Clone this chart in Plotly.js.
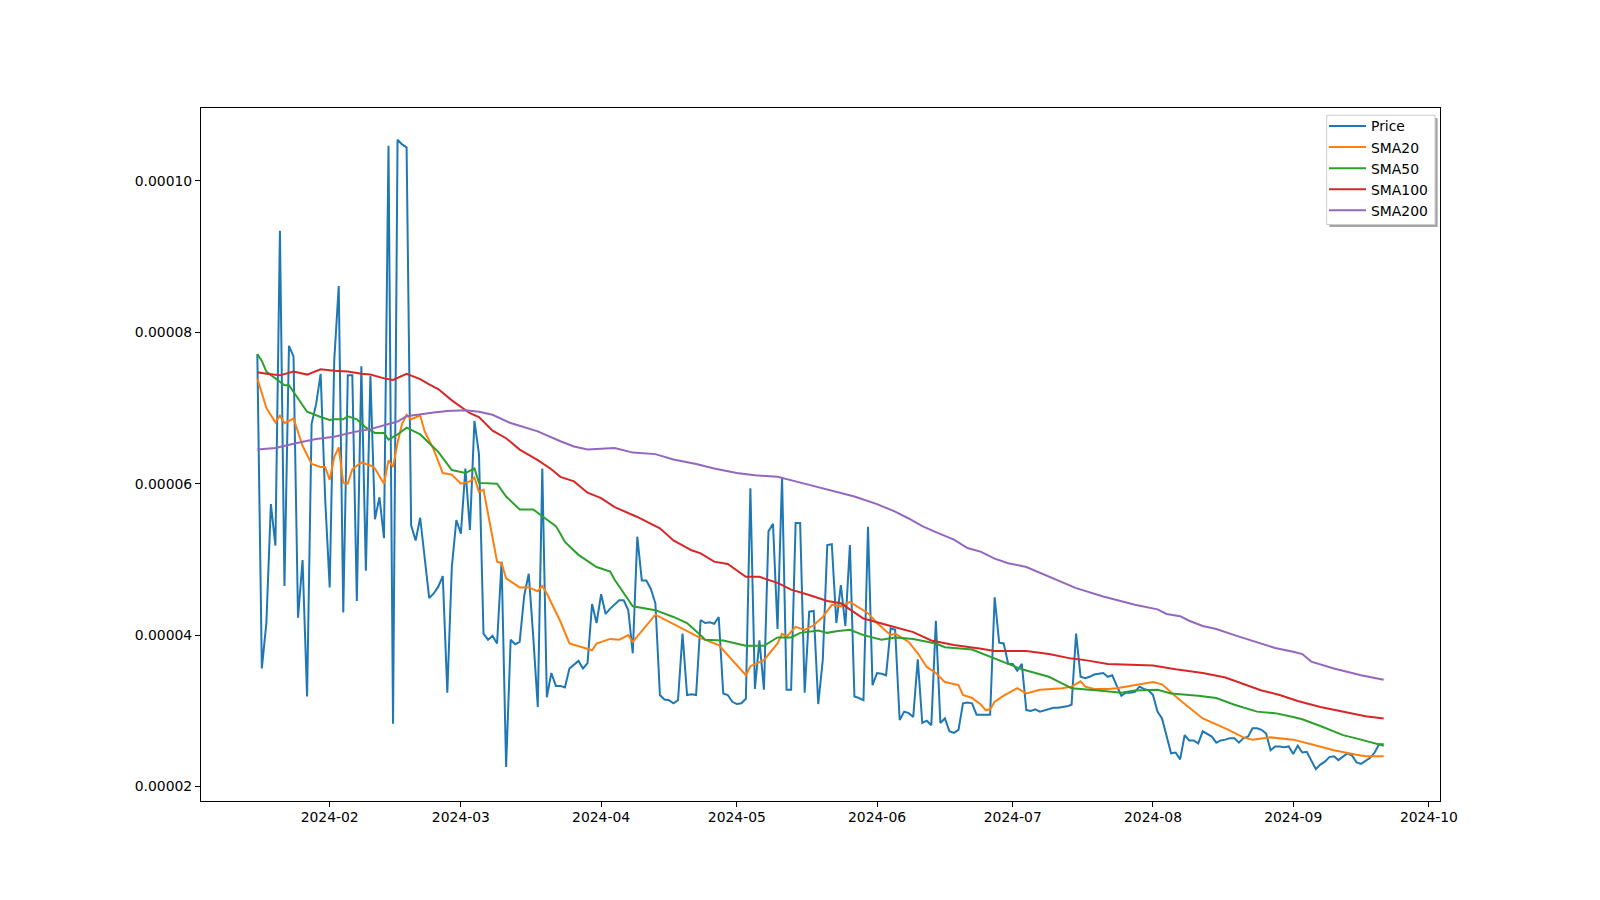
<!DOCTYPE html>
<html>
<head>
<meta charset="utf-8">
<script src="https://cdn.plot.ly/plotly-3.0.1.min.js"></script>
<style>html,body{margin:0;padding:0;background:#fff}#chart{width:1600px;height:900px}</style>
</head>
<body>
<div id="chart"></div>
<script>
// ---- Data ----
const priceStart = '2024-01-16';   // daily closes, one per day from this date
const priceValues = [
  7.71e-5,3.56e-5,4.16e-5,5.73e-5,5.18e-5,9.34e-5,4.65e-5,7.82e-5,7.68e-5,4.23e-5,
  4.99e-5,3.19e-5,6.79e-5,7.05e-5,7.45e-5,5.80e-5,4.63e-5,7.62e-5,8.61e-5,4.30e-5,
  7.43e-5,7.43e-5,4.45e-5,7.55e-5,4.85e-5,7.42e-5,5.53e-5,5.82e-5,5.28e-5,10.46e-5,
  2.83e-5,10.54e-5,10.48e-5,10.44e-5,5.45e-5,5.25e-5,5.55e-5,4.98e-5,4.49e-5,4.55e-5,
  4.64e-5,4.78e-5,3.24e-5,4.90e-5,5.52e-5,5.34e-5,6.20e-5,5.39e-5,6.83e-5,6.39e-5,
  4.02e-5,3.94e-5,3.99e-5,3.89e-5,4.97e-5,2.26e-5,3.94e-5,3.88e-5,3.91e-5,4.52e-5,
  4.81e-5,3.98e-5,3.05e-5,6.20e-5,3.18e-5,3.50e-5,3.33e-5,3.33e-5,3.31e-5,3.56e-5,
  3.61e-5,3.66e-5,3.56e-5,3.63e-5,4.41e-5,4.16e-5,4.54e-5,4.28e-5,4.35e-5,4.41e-5,
  4.46e-5,4.46e-5,4.33e-5,3.76e-5,5.30e-5,4.72e-5,4.72e-5,4.61e-5,4.42e-5,3.21e-5,
  3.15e-5,3.14e-5,3.10e-5,3.14e-5,4.02e-5,3.21e-5,3.22e-5,3.21e-5,4.20e-5,4.16e-5,
  4.17e-5,4.15e-5,4.24e-5,3.23e-5,3.21e-5,3.12e-5,3.09e-5,3.10e-5,3.16e-5,5.94e-5,
  3.29e-5,3.93e-5,3.28e-5,5.37e-5,5.47e-5,4.08e-5,6.08e-5,3.28e-5,3.28e-5,5.48e-5,
  5.48e-5,3.24e-5,4.31e-5,4.32e-5,3.09e-5,3.67e-5,5.19e-5,5.20e-5,4.16e-5,4.66e-5,
  4.12e-5,5.19e-5,3.19e-5,3.17e-5,3.14e-5,5.43e-5,3.34e-5,3.50e-5,3.49e-5,3.47e-5,
  4.09e-5,4.07e-5,2.88e-5,2.99e-5,2.97e-5,2.92e-5,3.68e-5,2.84e-5,2.87e-5,2.81e-5,
  4.19e-5,2.84e-5,2.90e-5,2.73e-5,2.71e-5,2.75e-5,3.10e-5,3.11e-5,3.10e-5,2.95e-5,
  2.95e-5,2.95e-5,2.95e-5,4.50e-5,3.90e-5,3.89e-5,3.62e-5,3.62e-5,3.53e-5,3.62e-5,
  3.01e-5,3.00e-5,3.02e-5,2.99e-5,3.01e-5,3.03e-5,3.04e-5,3.04e-5,3.05e-5,3.06e-5,
  3.08e-5,4.02e-5,3.45e-5,3.43e-5,3.45e-5,3.48e-5,3.49e-5,3.50e-5,3.45e-5,3.47e-5,
  3.33e-5,3.20e-5,3.24e-5,3.24e-5,3.25e-5,3.32e-5,3.29e-5,3.27e-5,3.21e-5,2.99e-5,
  2.90e-5,2.66e-5,2.44e-5,2.45e-5,2.36e-5,2.68e-5,2.61e-5,2.61e-5,2.57e-5,2.73e-5,
  2.70e-5,2.66e-5,2.58e-5,2.61e-5,2.62e-5,2.64e-5,2.64e-5,2.58e-5,2.64e-5,2.66e-5,
  2.77e-5,2.77e-5,2.75e-5,2.70e-5,2.48e-5,2.53e-5,2.53e-5,2.52e-5,2.53e-5,2.43e-5,
  2.54e-5,2.45e-5,2.46e-5,2.35e-5,2.23e-5,2.29e-5,2.33e-5,2.39e-5,2.40e-5,2.35e-5,
  2.39e-5,2.44e-5,2.41e-5,2.32e-5,2.30e-5,2.34e-5,2.38e-5,2.45e-5,2.56e-5,2.56e-5
];

const sma20Dates = ['2024-01-16','2024-01-18','2024-01-20','2024-01-21','2024-01-22','2024-01-24','2024-01-26','2024-01-27','2024-01-28','2024-01-30','2024-01-31','2024-02-01','2024-02-02','2024-02-03','2024-02-04','2024-02-05','2024-02-06','2024-02-08','2024-02-10','2024-02-11','2024-02-13','2024-02-14','2024-02-15','2024-02-16','2024-02-17','2024-02-18','2024-02-19','2024-02-21','2024-02-22','2024-02-24','2024-02-26','2024-02-28','2024-03-01','2024-03-03','2024-03-04','2024-03-05','2024-03-06','2024-03-09','2024-03-10','2024-03-11','2024-03-14','2024-03-16','2024-03-18','2024-03-19','2024-03-20','2024-03-23','2024-03-25','2024-03-30','2024-03-31','2024-04-03','2024-04-05','2024-04-07','2024-04-08','2024-04-13','2024-04-19','2024-04-23','2024-04-27','2024-05-03','2024-05-04','2024-05-07','2024-05-10','2024-05-11','2024-05-12','2024-05-14','2024-05-16','2024-05-18','2024-05-20','2024-05-22','2024-05-24','2024-05-26','2024-05-30','2024-06-01','2024-06-04','2024-06-05','2024-06-08','2024-06-10','2024-06-12','2024-06-14','2024-06-16','2024-06-19','2024-06-20','2024-06-22','2024-06-24','2024-06-25','2024-06-26','2024-06-27','2024-06-29','2024-07-02','2024-07-04','2024-07-07','2024-07-12','2024-07-14','2024-07-16','2024-07-17','2024-07-19','2024-07-22','2024-07-24','2024-07-27','2024-07-30','2024-08-01','2024-08-03','2024-08-07','2024-08-12','2024-08-17','2024-08-21','2024-08-23','2024-08-27','2024-09-01','2024-09-05','2024-09-10','2024-09-15','2024-09-17','2024-09-19','2024-09-21'];
const sma20Values = [7.39e-5,7.00e-5,6.81e-5,6.90e-5,6.80e-5,6.86e-5,6.50e-5,6.37e-5,6.26e-5,6.22e-5,6.22e-5,6.05e-5,6.35e-5,6.48e-5,6.01e-5,6.00e-5,6.19e-5,6.28e-5,6.24e-5,6.20e-5,6.00e-5,6.31e-5,6.22e-5,6.54e-5,6.79e-5,6.91e-5,6.85e-5,6.90e-5,6.69e-5,6.45e-5,6.14e-5,6.12e-5,6.00e-5,6.03e-5,6.08e-5,5.89e-5,5.92e-5,4.97e-5,4.95e-5,4.75e-5,4.63e-5,4.63e-5,4.58e-5,4.65e-5,4.55e-5,4.18e-5,3.89e-5,3.80e-5,3.89e-5,3.95e-5,3.94e-5,4.00e-5,3.91e-5,4.27e-5,4.09e-5,3.96e-5,3.87e-5,3.47e-5,3.59e-5,3.67e-5,3.89e-5,4.02e-5,3.98e-5,4.11e-5,4.07e-5,4.13e-5,4.24e-5,4.40e-5,4.38e-5,4.44e-5,4.29e-5,4.16e-5,4.00e-5,4.02e-5,3.91e-5,3.76e-5,3.58e-5,3.50e-5,3.38e-5,3.34e-5,3.21e-5,3.17e-5,3.08e-5,3.01e-5,3.02e-5,3.12e-5,3.20e-5,3.30e-5,3.23e-5,3.28e-5,3.30e-5,3.32e-5,3.39e-5,3.32e-5,3.29e-5,3.29e-5,3.30e-5,3.33e-5,3.35e-5,3.38e-5,3.35e-5,3.14e-5,2.90e-5,2.77e-5,2.65e-5,2.62e-5,2.65e-5,2.62e-5,2.56e-5,2.48e-5,2.42e-5,2.40e-5,2.40e-5,2.40e-5];

const sma50Dates = ['2024-01-16','2024-01-17','2024-01-18','2024-01-20','2024-01-22','2024-01-23','2024-01-25','2024-01-27','2024-01-30','2024-02-01','2024-02-02','2024-02-04','2024-02-05','2024-02-07','2024-02-09','2024-02-11','2024-02-13','2024-02-14','2024-02-16','2024-02-18','2024-02-21','2024-02-23','2024-02-25','2024-02-28','2024-03-02','2024-03-04','2024-03-05','2024-03-09','2024-03-11','2024-03-14','2024-03-17','2024-03-19','2024-03-22','2024-03-23','2024-03-24','2024-03-27','2024-03-29','2024-03-31','2024-04-03','2024-04-04','2024-04-08','2024-04-13','2024-04-17','2024-04-20','2024-04-23','2024-04-24','2024-04-28','2024-04-30','2024-05-03','2024-05-07','2024-05-10','2024-05-13','2024-05-15','2024-05-19','2024-05-21','2024-05-23','2024-05-26','2024-05-29','2024-06-02','2024-06-05','2024-06-09','2024-06-14','2024-06-16','2024-06-22','2024-06-24','2024-06-26','2024-06-30','2024-07-03','2024-07-09','2024-07-12','2024-07-14','2024-07-20','2024-07-25','2024-07-28','2024-08-02','2024-08-05','2024-08-11','2024-08-15','2024-08-19','2024-08-24','2024-08-28','2024-09-01','2024-09-03','2024-09-07','2024-09-12','2024-09-16','2024-09-20','2024-09-21'];
const sma50Values = [7.71e-5,7.62e-5,7.48e-5,7.39e-5,7.30e-5,7.30e-5,7.13e-5,6.95e-5,6.88e-5,6.84e-5,6.85e-5,6.85e-5,6.89e-5,6.85e-5,6.74e-5,6.67e-5,6.67e-5,6.58e-5,6.65e-5,6.74e-5,6.65e-5,6.54e-5,6.42e-5,6.18e-5,6.14e-5,6.20e-5,6.01e-5,6.00e-5,5.83e-5,5.66e-5,5.66e-5,5.57e-5,5.44e-5,5.34e-5,5.23e-5,5.06e-5,4.98e-5,4.90e-5,4.84e-5,4.73e-5,4.38e-5,4.33e-5,4.24e-5,4.16e-5,4.00e-5,3.94e-5,3.93e-5,3.90e-5,3.86e-5,3.86e-5,3.97e-5,3.97e-5,4.03e-5,4.06e-5,4.03e-5,4.05e-5,4.07e-5,4.00e-5,3.94e-5,3.97e-5,3.95e-5,3.89e-5,3.84e-5,3.81e-5,3.76e-5,3.72e-5,3.62e-5,3.55e-5,3.45e-5,3.36e-5,3.30e-5,3.27e-5,3.24e-5,3.27e-5,3.28e-5,3.23e-5,3.20e-5,3.17e-5,3.08e-5,2.99e-5,2.97e-5,2.92e-5,2.89e-5,2.80e-5,2.68e-5,2.62e-5,2.56e-5,2.54e-5];

const sma100Dates = ['2024-01-16','2024-01-18','2024-01-21','2024-01-24','2024-01-27','2024-01-30','2024-02-02','2024-02-05','2024-02-08','2024-02-10','2024-02-13','2024-02-15','2024-02-18','2024-02-21','2024-02-23','2024-02-25','2024-02-28','2024-03-03','2024-03-05','2024-03-08','2024-03-11','2024-03-14','2024-03-18','2024-03-21','2024-03-23','2024-03-26','2024-03-29','2024-04-01','2024-04-04','2024-04-09','2024-04-14','2024-04-17','2024-04-21','2024-04-23','2024-04-26','2024-04-29','2024-05-03','2024-05-06','2024-05-10','2024-05-13','2024-05-17','2024-05-21','2024-05-24','2024-05-29','2024-06-04','2024-06-09','2024-06-13','2024-06-18','2024-06-24','2024-06-27','2024-07-04','2024-07-09','2024-07-14','2024-07-17','2024-07-22','2024-07-28','2024-08-01','2024-08-06','2024-08-12','2024-08-17','2024-08-21','2024-08-25','2024-08-29','2024-09-02','2024-09-07','2024-09-12','2024-09-17','2024-09-21'];
const sma100Values = [7.47e-5,7.45e-5,7.43e-5,7.48e-5,7.44e-5,7.51e-5,7.49e-5,7.48e-5,7.45e-5,7.44e-5,7.39e-5,7.37e-5,7.45e-5,7.38e-5,7.31e-5,7.25e-5,7.10e-5,6.93e-5,6.88e-5,6.70e-5,6.60e-5,6.45e-5,6.31e-5,6.19e-5,6.09e-5,6.03e-5,5.88e-5,5.81e-5,5.69e-5,5.56e-5,5.41e-5,5.25e-5,5.12e-5,5.08e-5,4.97e-5,4.94e-5,4.77e-5,4.77e-5,4.69e-5,4.60e-5,4.53e-5,4.45e-5,4.42e-5,4.22e-5,4.12e-5,4.04e-5,3.93e-5,3.87e-5,3.82e-5,3.79e-5,3.79e-5,3.75e-5,3.69e-5,3.67e-5,3.62e-5,3.61e-5,3.60e-5,3.55e-5,3.50e-5,3.44e-5,3.35e-5,3.27e-5,3.21e-5,3.13e-5,3.05e-5,2.99e-5,2.93e-5,2.90e-5];

const sma200Dates = ['2024-01-16','2024-01-20','2024-01-25','2024-01-29','2024-02-02','2024-02-07','2024-02-10','2024-02-13','2024-02-16','2024-02-18','2024-02-21','2024-02-24','2024-02-27','2024-03-02','2024-03-05','2024-03-08','2024-03-12','2024-03-18','2024-03-23','2024-03-26','2024-03-29','2024-04-04','2024-04-08','2024-04-13','2024-04-17','2024-04-22','2024-04-26','2024-05-01','2024-05-05','2024-05-10','2024-05-14','2024-05-18','2024-05-23','2024-05-27','2024-06-01','2024-06-05','2024-06-08','2024-06-11','2024-06-14','2024-06-18','2024-06-21','2024-06-24','2024-06-27','2024-06-30','2024-07-04','2024-07-09','2024-07-15','2024-07-21','2024-07-28','2024-08-02','2024-08-04','2024-08-07','2024-08-09','2024-08-12','2024-08-15','2024-08-19','2024-08-22','2024-08-25','2024-08-28','2024-09-01','2024-09-03','2024-09-05','2024-09-10','2024-09-16','2024-09-21'];
const sma200Values = [6.45e-5,6.47e-5,6.54e-5,6.59e-5,6.62e-5,6.69e-5,6.72e-5,6.77e-5,6.82e-5,6.89e-5,6.92e-5,6.94e-5,6.96e-5,6.97e-5,6.95e-5,6.91e-5,6.80e-5,6.69e-5,6.56e-5,6.49e-5,6.45e-5,6.47e-5,6.41e-5,6.39e-5,6.32e-5,6.26e-5,6.20e-5,6.14e-5,6.11e-5,6.09e-5,6.03e-5,5.97e-5,5.90e-5,5.83e-5,5.73e-5,5.63e-5,5.54e-5,5.44e-5,5.36e-5,5.26e-5,5.15e-5,5.10e-5,5.01e-5,4.95e-5,4.90e-5,4.77e-5,4.62e-5,4.51e-5,4.40e-5,4.34e-5,4.28e-5,4.25e-5,4.19e-5,4.12e-5,4.08e-5,4.00e-5,3.94e-5,3.89e-5,3.83e-5,3.78e-5,3.75e-5,3.65e-5,3.56e-5,3.47e-5,3.41e-5];

const yTickValues = [2e-5, 4e-5, 6e-5, 8e-5, 10e-5];
const yTickLabels = ['0.00002', '0.00004', '0.00006', '0.00008', '0.00010'];

// ---- build daily dates for the price series ----
function dailyDates(start, n) {
  const out = [];
  const d0 = new Date(start + 'T00:00:00Z');
  for (let i = 0; i < n; i++) {
    const d = new Date(d0.getTime() + i * 86400000);
    out.push(d.toISOString().slice(0, 10));
  }
  return out;
}
const priceDates = dailyDates(priceStart, priceValues.length);

const colors = ['#1f77b4', '#ff7f0e', '#2ca02c', '#d62728', '#9467bd'];
function line(name, x, y, color) {
  return {type: 'scatter', mode: 'lines', name: name, x: x, y: y,
          line: {color: color, width: 2}, hoverinfo: 'x+y'};
}
const traces = [
  line('Price', priceDates, priceValues, colors[0]),
  line('SMA20', sma20Dates, sma20Values, colors[1]),
  line('SMA50', sma50Dates, sma50Values, colors[2]),
  line('SMA100', sma100Dates, sma100Values, colors[3]),
  line('SMA200', sma200Dates, sma200Values, colors[4])
];

// plot area in pixels (for legend frame placement)
const M = {l: 201, r: 160, t: 108, b: 99};
const PW = 1600 - M.l - M.r, PH = 900 - M.t - M.b;
const px = v => (v - M.l) / PW;
const py = v => 1 - (v - M.t) / PH;

const font = {family: 'DejaVu Sans, sans-serif', size: 13.9, color: '#000'};
const layout = {
  width: 1600, height: 900,
  paper_bgcolor: '#fff', plot_bgcolor: '#fff',
  margin: M,
  font: font,
  showlegend: true,
  legend: {x: px(1324), y: py(110.5), xanchor: 'left', yanchor: 'top',
           bgcolor: 'rgba(0,0,0,0)', borderwidth: 0,
           font: font, itemwidth: 37, tracegroupgap: 0},
  shapes: [
    {type: 'rect', xref: 'paper', yref: 'paper', layer: 'above',
     x0: px(1329.3), x1: px(1437.6), y0: py(227.1), y1: py(117.9),
     fillcolor: '#a6a6a6', line: {width: 0}},
    {type: 'rect', xref: 'paper', yref: 'paper', layer: 'above',
     x0: px(1326.7), x1: px(1435), y0: py(224.5), y1: py(115.3),
     fillcolor: '#ffffff', line: {color: '#cccccc', width: 1}}
  ],
  xaxis: {type: 'date', range: ['2024-01-03 13:12', '2024-10-03 10:48'],
          tick0: '2024-02-01', dtick: 'M1', tickformat: '%Y-%m',
          showgrid: false, zeroline: false, showline: true, mirror: true,
          linecolor: '#000', linewidth: 1, ticks: 'outside', ticklen: 5,
          tickwidth: 1, tickcolor: '#000', tickfont: font, ticklabelstandoff: -2},
  yaxis: {range: [1.81e-5, 1.096e-4], tickmode: 'array',
          tickvals: yTickValues, ticktext: yTickLabels,
          showgrid: false, zeroline: false, showline: true, mirror: true,
          linecolor: '#000', linewidth: 1, ticks: 'outside', ticklen: 5,
          tickwidth: 1, tickcolor: '#000', tickfont: font}
};

Plotly.newPlot('chart', traces, layout, {displayModeBar: false, staticPlot: true});
</script>
</body>
</html>
